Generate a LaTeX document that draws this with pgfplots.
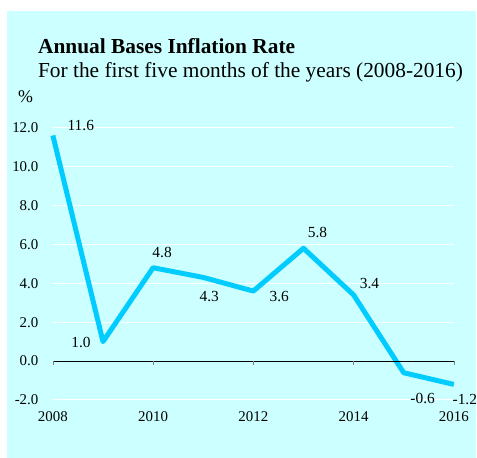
\documentclass[border=0pt]{standalone}
\usepackage{fontspec}
\setmainfont{Liberation Serif}
\usepackage{pgfplots}
\pgfplotsset{compat=1.18}
\definecolor{bgc}{HTML}{CCFFFF}
\definecolor{linec}{HTML}{00CCFF}
\begin{document}
\begin{tikzpicture}
\fill[white] (0bp,0bp) rectangle (477bp,459bp);
\fill[bgc] (7bp,0bp) rectangle (477bp,448bp);
\node[anchor=base west,font=\fontsize{21.5}{23}\selectfont\bfseries,inner sep=0] at (38bp,405bp) {Annual Bases Inflation Rate};
\node[anchor=base west,font=\fontsize{21.5}{23}\selectfont,inner sep=0] at (38bp,381bp) {For the first five months of the years (2008-2016)};
\node[anchor=base west,font=\fontsize{18}{20}\selectfont,inner sep=0] at (18bp,356bp) {\%};
\begin{axis}[
  at={(53bp,58bp)}, anchor=south west,
  scale only axis, width=402bp, height=273bp,
  xmin=2008, xmax=2016, ymin=-2, ymax=12,
  axis line style={draw=none},
  tick style={draw=none},
  clip=false,
  ytick={-2,0,...,12},
  xtick={2008,2010,...,2016},
  ymajorgrids, grid style={white, line width=1pt},
  major tick length=0pt,
  /pgf/number format/assume math mode=true,
  ticklabel style={font=\fontsize{15}{17}\selectfont},
  yticklabel={\pgfmathprintnumber[fixed,fixed zerofill,precision=1]{\tick}},
  xticklabel={\pgfmathprintnumber[1000 sep={}]{\tick}},
  yticklabel style={anchor=east, xshift=-11bp},
  xticklabel style={anchor=center, yshift=-17bp},
]
\addplot[linec, line width=5bp, line join=round] coordinates {
 (2008,11.6) (2009,1.0) (2010,4.8) (2011,4.3) (2012,3.6) (2013,5.8) (2014,3.4) (2015,-0.6) (2016,-1.2)};
\draw[black, line width=0.9pt] (axis cs:2008,0) -- (axis cs:2016,0);
\draw[gray, line width=0.6pt] (axis cs:2008,0) -- ++(0bp,-4bp);
\draw[gray, line width=0.6pt] (axis cs:2010,0) -- ++(0bp,-4bp);
\draw[gray, line width=0.6pt] (axis cs:2012,0) -- ++(0bp,-4bp);
\draw[gray, line width=0.6pt] (axis cs:2014,0) -- ++(0bp,-4bp);
\draw[gray, line width=0.6pt] (axis cs:2016,0) -- ++(0bp,-4bp);
\begin{scope}[every node/.style={font=\fontsize{15.5}{17}\selectfont,inner sep=0}]
\node at ([shift={(28bp,10bp)}]axis cs:2008,11.6) {11.6};
\node at ([shift={(-22bp,-1bp)}]axis cs:2009,1.0) {1.0};
\node at ([shift={(9bp,15bp)}]axis cs:2010,4.8) {4.8};
\node at ([shift={(6bp,-19bp)}]axis cs:2011,4.3) {4.3};
\node at ([shift={(26bp,-5bp)}]axis cs:2012,3.6) {3.6};
\node at ([shift={(14bp,16bp)}]axis cs:2013,5.8) {5.8};
\node at ([shift={(16bp,11bp)}]axis cs:2014,3.4) {3.4};
\node at ([shift={(19bp,-26bp)}]axis cs:2015,-0.6) {-0.6};
\node at ([shift={(11bp,-15bp)}]axis cs:2016,-1.2) {-1.2};
\end{scope}
\end{axis}
\end{tikzpicture}
\end{document}
